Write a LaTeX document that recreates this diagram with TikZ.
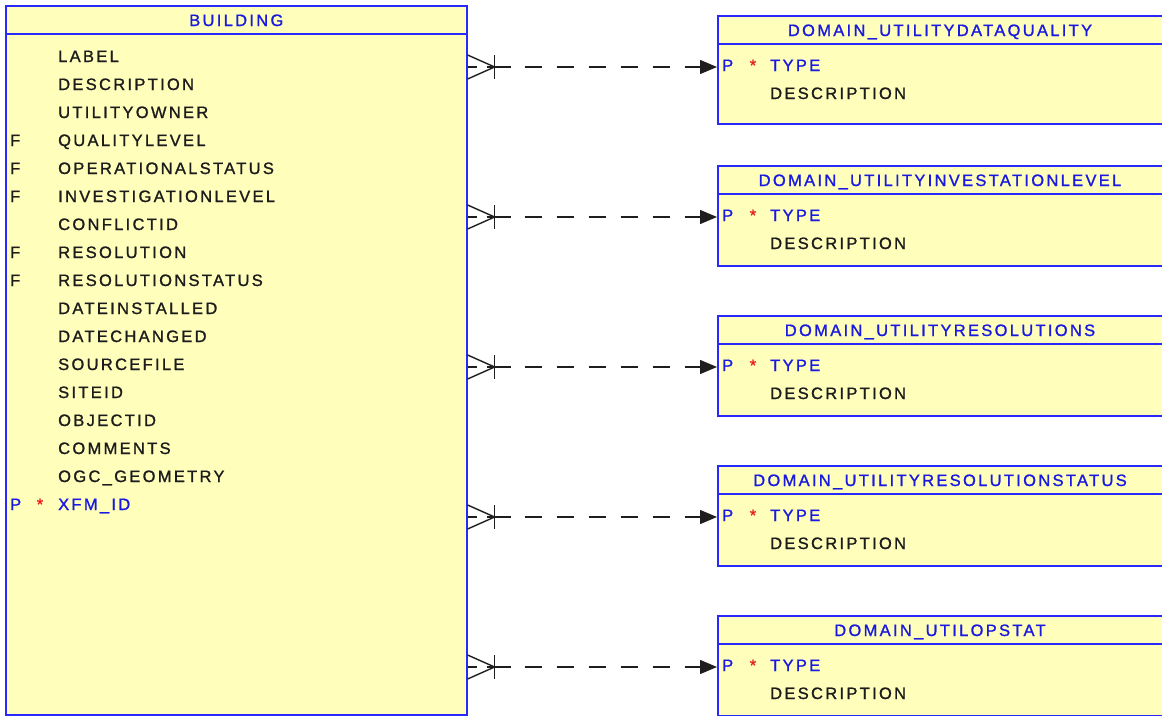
\documentclass[tikz,border=0pt]{standalone}
\usepackage{fontspec}
\setmainfont{Liberation Sans}[LetterSpace=14, FakeBold=1.2]
\usetikzlibrary{arrows.meta,calc}

\definecolor{erfill}{RGB}{255,255,187}
\definecolor{erline}{RGB}{40,40,255}
\definecolor{ertext}{RGB}{28,28,28}
\definecolor{erkey}{RGB}{25,25,225}
\definecolor{erstar}{RGB}{235,30,30}
\definecolor{erlink}{RGB}{30,30,30}

\tikzset{
  entity/.style={draw=erline, line width=1.6pt, fill=erfill, anchor=north west, inner sep=0pt},
  rule/.style={draw=erline, line width=1.6pt},
  title/.style={text=erkey, anchor=base, inner sep=0pt, font=\fontsize{16.5}{19}\selectfont},
  field/.style={text=ertext, anchor=base west, inner sep=0pt, font=\fontsize{16.5}{19}\selectfont},
  keyfield/.style={field, text=erkey},
  starmark/.style={field, anchor=base, text=erstar},
  link/.style={draw=erlink, line width=1.4pt},
}

\begin{document}
\begin{tikzpicture}[x=1pt,y=-1pt]
\clip (0,0) rectangle (1162,715);
\fill[white] (0,0) rectangle (1162,715);

% ---------- BUILDING entity ----------
\node[entity, minimum width=461pt, minimum height=709pt] (bldg) at (5,5) {};
\draw[rule] ([yshift=-29pt]bldg.north west) -- ([yshift=-29pt]bldg.north east);
\node[title] (bldg-title) at ($(bldg.north)+(0,21)$) {BUILDING};

\foreach \name [count=\i from 0] in {LABEL, DESCRIPTION, UTILITYOWNER, QUALITYLEVEL,
    OPERATIONALSTATUS, INVESTIGATIONLEVEL, CONFLICTID, RESOLUTION, RESOLUTIONSTATUS,
    DATEINSTALLED, DATECHANGED, SOURCEFILE, SITEID, OBJECTID, COMMENTS, OGC\_GEOMETRY}
  \node[field] (b\i) at (58, {62+28*\i}) {\name};

% foreign-key flags
\foreach \i in {3,4,5,7,8}
  \node[field] (bf\i) at (10, {62+28*\i}) {F};

% primary key row
\node[keyfield] (bkp) at (10, 510) {P};
\node[starmark] (bks) at (40, 510) {*};
\node[keyfield] (b16) at (58, 510) {XFM\_ID};

% ---------- domain lookup tables and their relationships ----------
\foreach \tname [count=\k from 0] in {DOMAIN\_UTILITYDATAQUALITY,
    DOMAIN\_UTILITYINVESTATIONLEVEL, DOMAIN\_UTILITYRESOLUTIONS,
    DOMAIN\_UTILITYRESOLUTIONSTATUS, DOMAIN\_UTILOPSTAT} {
  \pgfmathsetmacro{\tbltop}{15+150*\k}
  \ifnum\k=0 \def\tblh{108pt}\else\def\tblh{100pt}\fi
  \node[entity, minimum width=450pt, minimum height=\tblh] (t\k) at (717, \tbltop) {};
  \draw[rule] ([yshift=-29pt]t\k.north west) -- ([yshift=-29pt]t\k.north east);
  \node[title] (t\k-title) at (940, {\tbltop+21}) {\tname};
  \node[keyfield] (t\k-p) at (722, {\tbltop+56}) {P};
  \node[starmark] (t\k-s) at (753, {\tbltop+56}) {*};
  \node[keyfield] (t\k-type) at (770, {\tbltop+56}) {TYPE};
  \node[field] (t\k-desc) at (770, {\tbltop+84}) {DESCRIPTION};
  \coordinate (k\k) at (717, {\tbltop+52});

  % many-to-one relationship: crow's foot on BUILDING, arrow at the lookup table
  \coordinate (a\k) at (bldg.east |- k\k);
  \draw[link] ($(a\k)+(0,-12)$) -- ($(a\k)+(27,0)$) -- ($(a\k)+(0,12)$);
  \draw[link] ($(a\k)+(27,-12)$) -- ($(a\k)+(27,12)$);
  \draw[link] (a\k) -- ($(a\k)+(9,0)$);
  \draw[link] ($(a\k)+(19,0)$) -- ($(a\k)+(43,0)$);
  \draw[link, dash pattern=on 17pt off 15pt, dash phase=18pt,
        -{Triangle[length=17pt,width=14pt]}]
        ($(a\k)+(43,0)$) -- (t\k.west |- k\k);
}
\end{tikzpicture}
\end{document}
